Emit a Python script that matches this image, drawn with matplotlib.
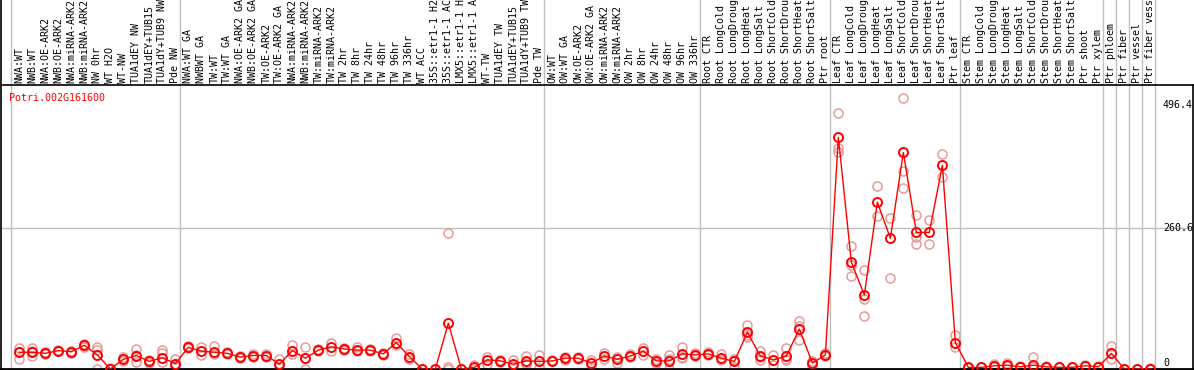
import matplotlib
matplotlib.use("Agg")
import matplotlib.pyplot as plt
import matplotlib.transforms as mtransforms

# sample labels, in chart order
labels = [
    "NWA:WT", "NWB:WT", "NWA:OE-ARK2", "NWB:OE-ARK2", "NWA:miRNA-ARK2", "NWB:miRNA-ARK2",
    "NW 0hr", "WT H2O", "WT-NW", "TUA1dEY NW", "TUA1dEY+TUB15", "TUA1dY+TUB9 NW", "Pde NW",
    "NWA:WT GA", "NWBWT GA", "TW:WT", "TW:WT GA", "NWA:OE-ARK2 GA", "NWB:OE-ARK2 GA",
    "TW:OE-ARK2", "TW:OE-ARK2 GA", "NWA:miRNA-ARK2", "NWB:miRNA-ARK2", "TW:miRNA-ARK2",
    "TW:miRNA-ARK2", "TW 2hr", "TW 8hr", "TW 24hr", "TW 48hr", "TW 96hr", "TW 336hr",
    "WT ACC", "35S::etr1-1 H2O", "35S::etr1-1 ACC", "LMX5::etr1-1 H2O", "LMX5::etr1-1 ACC",
    "WT-TW", "TUA1dEY TW", "TUA1dEY+TUB15", "TUA1dY+TUB9 TW", "Pde TW",
    "OW:WT", "OW:WT GA", "OW:OE-ARK2", "OW:OE-ARK2 GA", "OW:miRNA-ARK2", "OW:miRNA-ARK2",
    "OW 2hr", "OW 8hr", "OW 24hr", "OW 48hr", "OW 96hr", "OW 336hr",
    "Root CTR", "Root LongCold", "Root LongDrought", "Root LongHeat", "Root LongSalt",
    "Root ShortCold", "Root ShortDrought", "Root ShortHeat", "Root ShortSalt", "Ptr root",
    "Leaf CTR", "Leaf LongCold", "Leaf LongDrought", "Leaf LongHeat", "Leaf LongSalt",
    "Leaf ShortCold", "Leaf ShortDrought", "Leaf ShortHeat", "Leaf ShortSalt", "Ptr leaf",
    "Stem CTR", "Stem LongCold", "Stem LongDrought", "Stem LongHeat", "Stem LongSalt",
    "Stem ShortCold", "Stem ShortDrought", "Stem ShortHeat", "Stem ShortSalt",
    "Ptr shoot", "Ptr xylem", "Ptr phloem", "Ptr fiber", "Ptr vessel", "Ptr fiber vessel",
]

# mean expression per sample
means = [
    31, 31, 29, 34, 32, 44, 26, 0, 18, 25, 14, 21, 10,
    40, 33, 31, 29, 22, 25, 25, 9, 34, 20, 35, 41, 37, 35, 35, 28, 49, 23,
    0, 0, 85, 0, 3, 17, 15, 9, 15, 14,
    15, 20, 20, 11, 24, 18, 24, 33, 15, 15, 28, 26,
    28, 20, 14, 68, 24, 17, 24, 74, 11, 26,
    429, 198, 137, 309, 242, 401, 253, 253, 377, 49,
    3, 3, 6, 7, 4, 7, 4, 3, 3, 6, 4,
    29, 0, 0, 0,
]

# replicate values per sample
reps = [
    [39, 18, 31], [38, 25, 33], [31, 27, 29], [36, 33], [34, 30], [47, 41],
    [41, 35, 0], [0, 2], [22, 15], [37, 13, 26], [17, 12], [36, 29, 13], [18, 6],
    [42, 38], [41, 26], [43, 27], [31, 27], [24, 20], [27, 23], [27, 23], [18, 4],
    [44, 27], [40, 0, 20], [37, 33], [49, 33], [39, 35], [41, 33], [37, 33], [30, 26],
    [57, 44], [28, 19], [0], [0], [252, 4, 0], [0], [8, 0], [23, 10], [17, 13],
    [17, 5], [24, 10, 12], [26, 2, 14],
    [17, 14], [23, 17], [22, 18], [17, 6], [29, 18], [22, 11], [27, 22], [38, 26],
    [19, 11], [26, 0, 19], [41, 22, 20], [29, 24],
    [31, 26], [28, 16], [4, 17, 19], [82, 59, 63], [34, 16, 22], [26, 8],
    [38, 16, 18], [88, 54, 80], [14, 8], [29, 24],
    [475, 409, 402], [228, 193, 172], [183, 129, 98], [339, 283], [279, 168],
    [501, 367, 336], [285, 245, 231], [276, 231], [399, 356], [63, 41],
    [2], [3], [10, 4], [12, 5], [5], [22, 3], [5], [4], [4], [8, 5], [6],
    [43, 19], [0], [0], [1],
]

# first sample index of each group (last entry = end)
group_starts = [0, 13, 41, 53, 63, 73, 84, 85, 86, 87, 88]

gene = "Potri.002G161600"
tick_vals = [0, 260.6, 496.4]

W, H = 1194, 370
fig = plt.figure(figsize=(W / 100, H / 100), dpi=100)
ax_l, ax_r, ax_t, ax_b = 1, 1193, 85, 369
ax = fig.add_axes([ax_l / W, 1 - ax_b / H, (ax_r - ax_l) / W, (ax_b - ax_t) / H])

mono = "DejaVu Sans Mono"
grey = "#c0c0c0"

x = list(range(len(labels)))
ax.set_xlim(-1.41, 90.28)
ax.set_ylim(0, 526)

# group separators, running up through the label area
xt = ax.get_xaxis_transform()
top_ext = ax_b / (ax_b - ax_t)
for s in group_starts:
    ax.plot([s - 0.65, s - 0.65], [0, top_ext], color=grey, lw=1,
            transform=xt, clip_on=False, zorder=1)

ax.axhline(260.6, color=grey, lw=1, zorder=1)

# replicates
rx, ry = [], []
for i, r in enumerate(reps):
    for v in r:
        rx.append(i)
        ry.append(v)
ax.plot(rx, ry, ls="none", marker="o", ms=6.5, mfc="none", mec="#e89a9a",
        mew=1.1, zorder=2)

# means
ax.plot(x, means, color="red", lw=1, zorder=3)
ax.plot(x, means, ls="none", marker="o", ms=6.5, mfc="none", mec="red",
        mew=1.4, zorder=4)

# sample labels
for i, lab in enumerate(labels):
    ax.text(i, 1 + 2 / (ax_b - ax_t), lab, transform=xt, rotation=90,
            ha="center", va="bottom", fontsize=7.2, family=mono, color="black",
            clip_on=False)

ax.text(8 / (ax_r - ax_l), 1 - 12.7 / (ax_b - ax_t), gene, transform=ax.transAxes,
        ha="left", va="center", fontsize=7.2, family=mono, color="red")

# value labels on the right
yt = ax.get_yaxis_transform()
lx = (1163 - ax_l) / (ax_r - ax_l)
offs = {0: 6.5, 260.6: 0, 496.4: -4}
for v in tick_vals:
    lab = "0" if v == 0 else f"{v:.1f}"
    ax.annotate(lab, (lx, v), xycoords=yt, xytext=(0, offs[v] * 0.72),
                textcoords="offset points", ha="left", va="center",
                fontsize=7.2, family=mono, color="black")

ax.set_xticks([])
ax.set_yticks([])
for side in ["left", "right", "top"]:
    ax.spines[side].set_linewidth(1.2)
ax.spines["bottom"].set_linewidth(2)
for sp in ax.spines.values():
    sp.set_color("black")

# left border continues to the top of the image
fig.add_artist(plt.Line2D([ax_l / W, ax_l / W], [1 - ax_t / H, 1], color="black",
                          lw=1.2, transform=fig.transFigure))

fig.savefig("out.png", dpi=100)
